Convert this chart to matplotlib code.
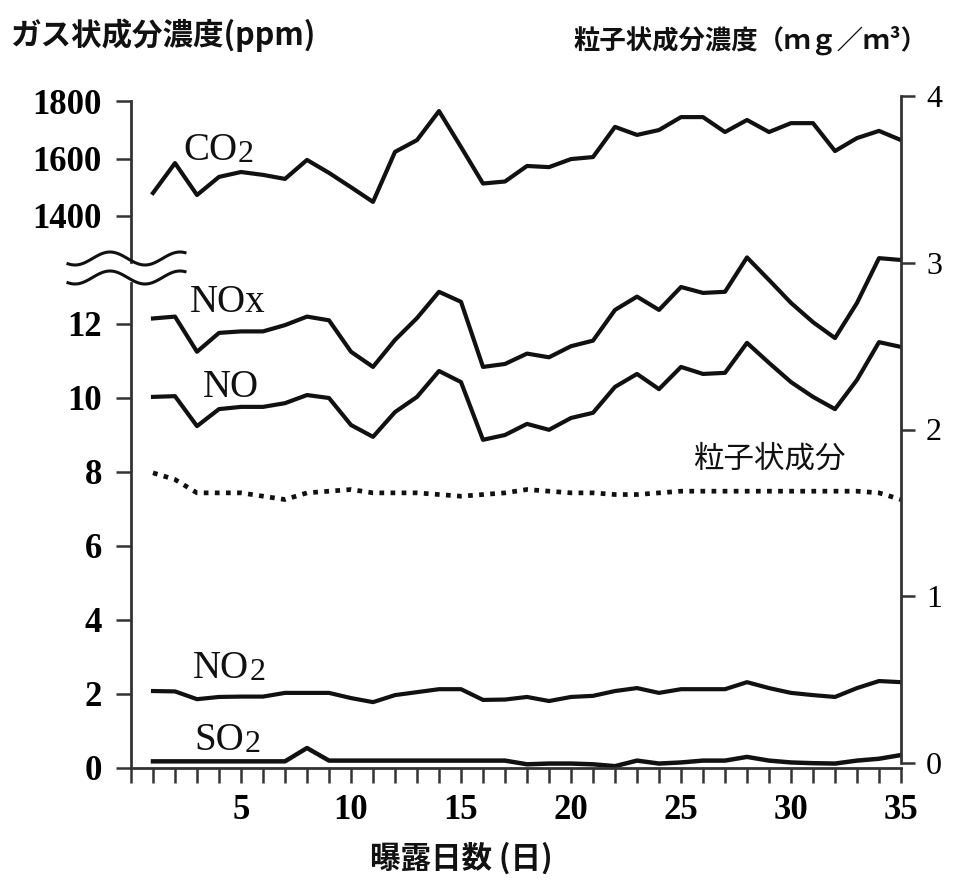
import numpy as np
import matplotlib
matplotlib.use('Agg')
import matplotlib.pyplot as plt

# exposure days
days = np.arange(1, 36)

# gas components (ppm)
co2 = [1480, 1584, 1473, 1536, 1553, 1543, 1529, 1595, 1550, 1500, 1449, 1623, 1664, 1765, 1640,
       1513, 1520, 1574, 1570, 1598, 1605, 1710, 1682, 1699, 1744, 1744, 1692, 1734, 1692, 1723,
       1723, 1626, 1671, 1696, 1664]
nox = [12.15, 12.2, 11.25, 11.76, 11.8, 11.8, 11.97, 12.2, 12.1, 11.25, 10.84, 11.57, 12.16, 12.87, 12.6,
       10.84, 10.92, 11.2, 11.1, 11.4, 11.55, 12.38, 12.74, 12.38, 13.0, 12.84, 12.87, 13.8, 13.19, 12.57,
       12.05, 11.62, 12.57, 13.78, 13.73]
no = [10.03, 10.05, 9.24, 9.7, 9.76, 9.76, 9.86, 10.08, 10.0, 9.27, 8.95, 9.62, 10.03, 10.73, 10.43,
      8.87, 9.0, 9.3, 9.14, 9.46, 9.6, 10.3, 10.65, 10.24, 10.84, 10.65, 10.68, 11.49, 10.95, 10.43,
      10.03, 9.7, 10.49, 11.51, 11.38]
no2 = [2.08, 2.07, 1.86, 1.92, 1.93, 1.93, 2.03, 2.03, 2.03, 1.89, 1.78, 1.97, 2.05, 2.13, 2.13,
       1.84, 1.85, 1.92, 1.81, 1.92, 1.95, 2.08, 2.16, 2.03, 2.13, 2.13, 2.13, 2.32, 2.16, 2.03,
       1.97, 1.92, 2.16, 2.35, 2.32]
so2 = [0.18, 0.18, 0.18, 0.18, 0.18, 0.18, 0.18, 0.54, 0.2, 0.2, 0.2, 0.2, 0.2, 0.2, 0.2,
       0.2, 0.2, 0.1, 0.12, 0.12, 0.1, 0.05, 0.2, 0.12, 0.15, 0.2, 0.2, 0.3, 0.2, 0.15,
       0.13, 0.12, 0.2, 0.25, 0.35]

# particulate component (mg/m3)
particle = [1.74, 1.70, 1.62, 1.62, 1.62, 1.60, 1.58, 1.62, 1.63, 1.64, 1.62, 1.62, 1.62, 1.61, 1.60,
            1.61, 1.62, 1.64, 1.63, 1.62, 1.62, 1.61, 1.61, 1.62, 1.63, 1.63, 1.63, 1.63, 1.63, 1.63,
            1.63, 1.63, 1.63, 1.62, 1.58]

W, H = 956, 882
fig = plt.figure(figsize=(W / 100, H / 100), dpi=100)

def frac(x0, y0, x1, y1):
    return [x0 / W, 1 - y1 / H, (x1 - x0) / W, (y1 - y0) / H]

serif = 'Liberation Serif'
jp = ['Noto Sans CJK JP', 'DejaVu Sans']
ink = '#111111'
spc = '#333333'

ax = fig.add_axes(frac(131, 240, 901, 768))
axu = fig.add_axes(frac(131, 101, 901, 262))
axr = fig.add_axes(frac(131, 96, 901, 763))
for a in (ax, axu, axr):
    a.patch.set_alpha(0)
    a.set_xlim(0, 35)
    for s in a.spines.values():
        s.set_color(spc)
        s.set_linewidth(2)

# lower gas axis
ax.set_ylim(0, 528 / 37)
ax.spines['top'].set_visible(False)
ax.spines['right'].set_visible(False)
ax.spines['left'].set_bounds(0, 13.1)
ax.set_yticks([0, 2, 4, 6, 8, 10, 12])
ax.set_xticks(range(0, 36))
ax.set_xticklabels([str(d) if d % 5 == 0 and d > 0 else '' for d in range(0, 36)])
ax.tick_params(direction='out', length=11, width=1.8, color=spc, labelsize=25)
ax.tick_params(axis='y', pad=10)
ax.tick_params(axis='x', pad=8)
for lab in ax.get_xticklabels() + ax.get_yticklabels():
    lab.set_family(serif)
    lab.set_weight('bold')

# upper gas axis (CO2)
axu.set_ylim(1800 - 161 / 0.2875, 1800)
for s in ('top', 'right', 'bottom'):
    axu.spines[s].set_visible(False)
axu.set_xticks([])
axu.set_yticks([1400, 1600, 1800])
axu.tick_params(direction='out', length=11, width=1.8, color=spc, labelsize=25, pad=10)
for lab in axu.get_yticklabels():
    lab.set_family(serif)
    lab.set_weight('bold')

# right particulate axis
axr.set_ylim(0, 4)
for s in ('top', 'left', 'bottom'):
    axr.spines[s].set_visible(False)
axr.set_xticks([])
axr.yaxis.tick_right()
axr.set_yticks([0, 1, 2, 3, 4])
axr.tick_params(direction='out', length=10, width=1.8, color=spc, labelsize=23, pad=8)
for lab in axr.get_yticklabels():
    lab.set_family(serif)

# lines
axu.plot(days, co2, color=ink, lw=3.0)
ax.plot(days, nox, color=ink, lw=3.0)
ax.plot(days, no, color=ink, lw=3.0)
ax.plot(days, no2, color=ink, lw=3.0)
ax.plot(days, so2, color=ink, lw=3.2)
axr.plot(days, particle, color=ink, lw=3.4, linestyle=(0, (1.0, 1.35)))

# series labels
fig.canvas.draw()
def chem(a, x, y, base, sub):
    t = a.text(x, y, base, family=serif, fontsize=28, color=ink, va='baseline', ha='left')
    if sub:
        a.annotate(sub, xy=(1, 0), xycoords=t, family=serif, fontsize=23, color=ink,
                   va='bottom', ha='left')

chem(axu, 2.4, 1595, 'CO', '2')
chem(ax, 2.68, 12.32, 'NOx', '')
chem(ax, 3.27, 10.03, 'NO', '')
chem(ax, 2.82, 2.43, 'NO', '2')
chem(ax, 2.9, 0.49, 'SO', '2')
axr.text(29.0, 1.82, '粒子状成分', family=jp, fontsize=22, color=ink, ha='center', va='center')

# axis titles
fig.text(10 / W, 1 - 35 / H, 'ガス状成分濃度(ppm)', family=jp, fontsize=22, fontweight='bold',
         color=ink, ha='left', va='center')
fig.text(927 / W, 1 - 40 / H, '粒子状成分濃度（ｍｇ／ｍ³）', family=jp, fontsize=19, fontweight='bold',
         color=ink, ha='right', va='center')
fig.text(461 / W, 1 - 858 / H, '曝露日数 (日)', family=jp, fontsize=22, fontweight='bold',
         color=ink, ha='center', va='center')

# axis break marks
xs = np.linspace(68, 185, 80)
for c in (258.5, 277.5):
    ys = c - 6.5 * np.cos(2 * np.pi * (xs - 110) / 70)
    fig.add_artist(plt.Line2D(xs / W, 1 - ys / H, color=ink, lw=2.2, transform=fig.transFigure))

fig.savefig('out.png', dpi=100)
